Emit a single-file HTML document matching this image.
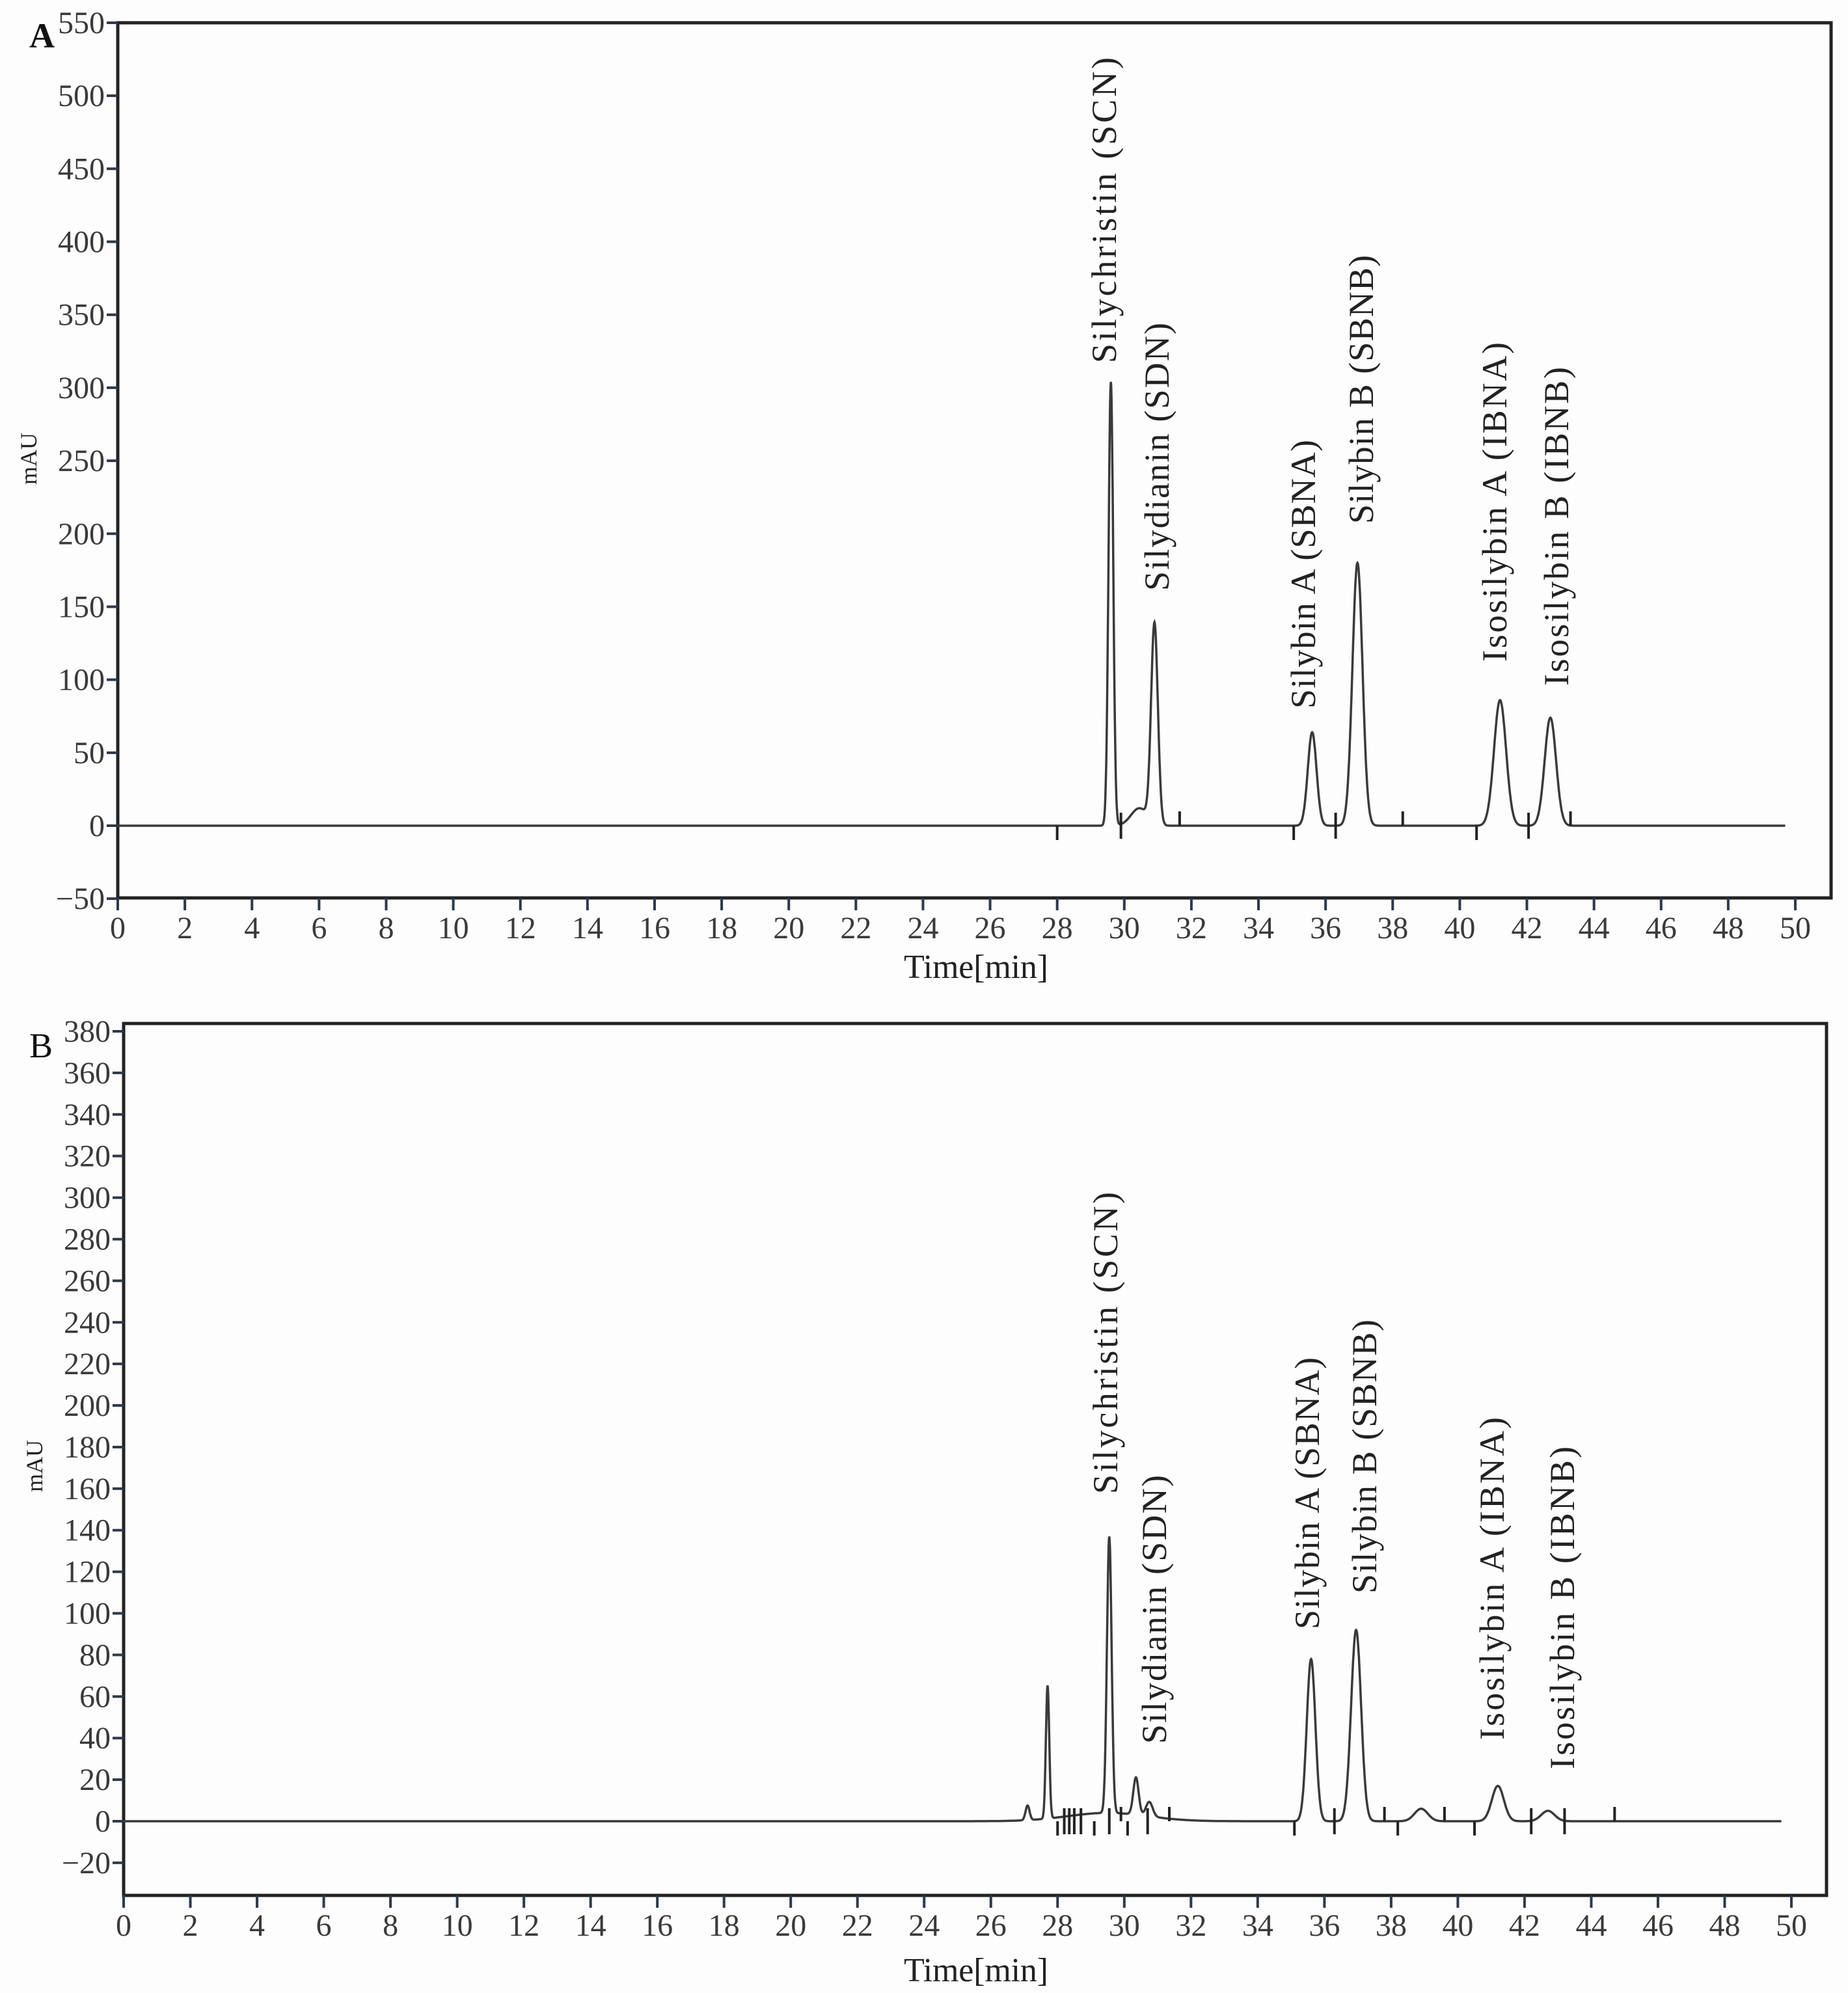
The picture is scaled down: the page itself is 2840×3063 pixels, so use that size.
<!DOCTYPE html>
<html><head><meta charset="utf-8">
<style>
html,body{margin:0;padding:0;background:#fdfdfd;}
svg{display:block;font-family:"Liberation Serif","DejaVu Serif",serif;}
</style></head>
<body>
<svg id="chart" width="2840" height="3063" viewBox="0 0 2840 3063" xmlns="http://www.w3.org/2000/svg">
<rect x="0" y="0" width="2840" height="3063" fill="#fdfdfd"/>
<g id="panelA"></g>
<g id="panelB"></g>
</svg>
<script>
// ---- Panel A data ----
const peakTimesA = [29.6, 30.45, 30.9, 35.6, 36.95, 41.2, 42.7];
const peakHeightsA = [304, 12, 137, 64, 180, 86, 74];
const peakWidthsA = [0.07, 0.25, 0.1, 0.13, 0.15, 0.18, 0.17];
const markersA = [[28.0,-1],[29.9,0],[31.65,1],[35.05,-1],[36.3,0],[38.3,1],[40.5,-1],[42.05,0],[43.3,1]];
const labelsA = ["Silychristin (SCN)","Silydianin (SDN)","Silybin A (SBNA)","Silybin B (SBNB)","Isosilybin A (IBNA)","Isosilybin B (IBNB)"];
const yTicksA = [-50,0,50,100,150,200,250,300,350,400,450,500,550];
// ---- Panel B data ----
const peakTimesB = [27.1, 27.7, 29.5, 29.55, 30.35, 30.75, 35.6, 36.95, 38.9, 41.2, 42.7];
const peakHeightsB = [7, 64, 4, 133, 18, 7, 78, 92, 6, 17, 5];
const peakWidthsB = [0.06, 0.05, 1.2, 0.07, 0.08, 0.1, 0.13, 0.15, 0.2, 0.18, 0.2];
const markersB = [[28.0,-1],[28.2,0],[28.35,0],[28.5,0],[28.7,0],[29.1,-1],[29.55,0],[29.9,1],[30.1,-1],[30.7,0],[31.35,1],[35.1,-1],[36.3,0],[37.8,1],[38.2,-1],[39.6,1],[40.5,-1],[42.2,0],[43.2,0],[44.7,1]];
const labelsB = ["Silychristin (SCN)","Silydianin (SDN)","Silybin A (SBNA)","Silybin B (SBNB)","Isosilybin A (IBNA)","Isosilybin B (IBNB)"];
const yTicksB = [-20,0,20,40,60,80,100,120,140,160,180,200,220,240,260,280,300,320,340,360,380];
const xTicks = [0,2,4,6,8,10,12,14,16,18,20,22,24,26,28,30,32,34,36,38,40,42,44,46,48,50];

const NS="http://www.w3.org/2000/svg";
function mk(tag, attrs, parent){const e=document.createElementNS(NS,tag);for(const k in attrs)e.setAttribute(k,attrs[k]);parent.appendChild(e);return e;}

function drawPanel(g, cfg){
  const xS=t=>cfg.x0+(t-0)*(cfg.x50-cfg.x0)/50;
  const yS=v=>cfg.yZero+(v)*(cfg.yTopPx-cfg.yZero)/cfg.yTopVal;
  const fr=mk('rect',{x:cfg.x0,y:cfg.top,width:cfg.right-cfg.x0,height:cfg.bottom-cfg.top,fill:'none',stroke:'#222','stroke-width':5},g);
  
  
  cfg.yTicks.forEach(v=>{
    const y=yS(v);
    const l=mk('line',{x1:cfg.x0-17,x2:cfg.x0,y1:y,y2:y,stroke:'#2a3a50','stroke-width':4},g);
    
    
    const t=mk('text',{x:cfg.x0-20,y:y+16,'text-anchor':'end','font-size':48,fill:'#3a3a3a'},g);
    
    
    t.textContent=(v<0?'\u2212':'')+Math.abs(v);
  });
  xTicks.forEach(v=>{
    const x=xS(v);
    const l=mk('line',{x1:x,x2:x,y1:cfg.bottom,y2:cfg.bottom+19,stroke:'#2a3a50','stroke-width':4},g);
    
    
    const t=mk('text',{x:x,y:cfg.bottom+62,'text-anchor':'middle','font-size':48,fill:'#3a3a3a'},g);
    
    
    t.textContent=v;
  });
  let d='';
  for(let i=0;i<=4970;i++){
    const tm=i*0.01;
    let v=0;
    for(let k=0;k<cfg.times.length;k++){const z=(tm-cfg.times[k])/cfg.widths[k];if(Math.abs(z)<8)v+=cfg.heights[k]*Math.exp(-0.5*z*z);}
    d+=(i?'L':'M')+xS(tm).toFixed(1)+','+yS(v).toFixed(1);
  }
  const p=mk('path',{d:d,fill:'none',stroke:'#3a3a3a','stroke-width':3.5},g);
  
  
  cfg.markers.forEach(m=>{
    const x=xS(m[0]),y0=yS(0);
    const y1=m[1]>0?y0-22:(m[1]<0?y0:y0-20), y2=m[1]>0?y0:(m[1]<0?y0+22:y0+20);
    const l=mk('line',{x1:x,x2:x,y1:y1,y2:y2,stroke:'#222','stroke-width':4},g);
    
    
  });
  cfg.labels.forEach((s,i)=>{
    const L=cfg.labelPos[i];
    const t=mk('text',{x:0,y:0,'font-size':54,fill:'#222',transform:`translate(${L[0]+15},${L[1]}) rotate(-90)`,textLength:L[1]-L[2],lengthAdjust:'spacing'},g);
    
    
    t.textContent=s;
  });
  const ya=mk('text',{x:0,y:0,'font-size':36,fill:'#222',transform:`translate(${cfg.x0-125},${cfg.mauY}) rotate(-90)`,'text-anchor':'middle'},g);
  
  
  ya.textContent='mAU';
  const xa=mk('text',{x:1500,y:cfg.timeY,'font-size':52,fill:'#222','text-anchor':'middle',textLength:222,lengthAdjust:'spacing'},g);
  
  
  xa.textContent='Time[min]';
  const pl=mk('text',{x:cfg.letterX,y:cfg.letterY,'font-size':54,fill:'#111','font-weight':cfg.letterWeight},g);
  
  
  pl.textContent=cfg.letter;
}

drawPanel(document.getElementById('panelA'),{
  x0:181,x50:2759,right:2814,top:35,bottom:1380,yZero:1269,yTopPx:35,yTopVal:550,
  yTicks:yTicksA,times:peakTimesA,heights:peakHeightsA,widths:peakWidthsA,markers:markersA,labels:labelsA,
  labelPos:[[1700,558,88],[1781,908,496],[2006,1089,676],[2095,805,392],[2300,1017,526],[2395,1054,564]],
  mauY:705,timeY:1503,letter:'A',letterX:45,letterY:73,letterWeight:'bold'
});
drawPanel(document.getElementById('panelB'),{
  x0:190,x50:2753,right:2807,top:1573,bottom:2913,yZero:2799,yTopPx:1585,yTopVal:380,
  yTicks:yTicksB,times:peakTimesB,heights:peakHeightsB,widths:peakWidthsB,markers:markersB,labels:labelsB,
  labelPos:[[1702,2296,1832],[1777,2680,2267],[2012,2504,2086],[2100,2449,2028],[2296,2674,2178],[2404,2719,2223]],
  mauY:2253,timeY:3045,letter:'B',letterX:45,letterY:1625,letterWeight:'normal'
});
</script>
</body></html>
